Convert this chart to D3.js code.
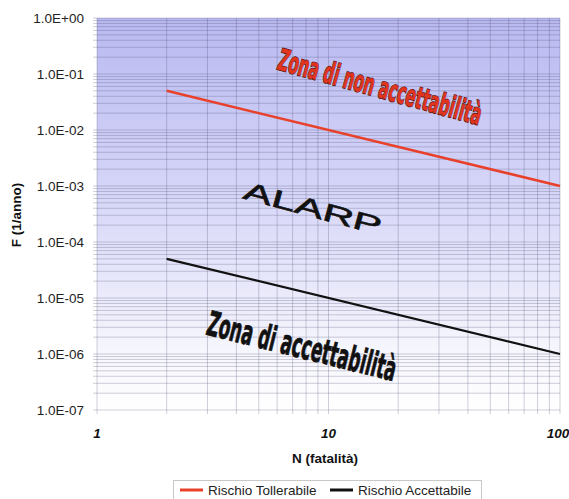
<!DOCTYPE html>
<html>
<head>
<meta charset="utf-8">
<script src="https://cdn.jsdelivr.net/npm/d3@7/dist/d3.min.js"></script>
<style>
  html, body { margin: 0; padding: 0; background: #fff; }
  svg { display: block; }
</style>
</head>
<body>
<svg id="chart" width="569" height="499"></svg>
<script>
// Frequency–fatality (F-N) criteria
const nValues = [2, 100];
const tolerableF = [0.05, 0.001];        // Rischio Tollerabile
const acceptableF = [0.00005, 0.000001]; // Rischio Accettabile
const yTickValues = [1, 1e-1, 1e-2, 1e-3, 1e-4, 1e-5, 1e-6, 1e-7];
const yTickLabels = ["1.0E+00", "1.0E-01", "1.0E-02", "1.0E-03", "1.0E-04", "1.0E-05", "1.0E-06", "1.0E-07"];
const xTickValues = [1, 10, 100];
const xTickLabels = ["1", "10", "100"];
const seriesNames = ["Rischio Tollerabile", "Rischio Accettabile"];
const seriesColors = ["#e8412b", "#111111"];

const svg = d3.select("#chart");
const m = { left: 97, right: 560, top: 18, bottom: 410 };

const x = d3.scaleLog().domain([1, 100]).range([m.left, m.right]);
const y = d3.scaleLog().domain([1e-7, 1]).range([m.bottom, m.top]);

// background gradient
const defs = svg.append("defs");
const grad = defs.append("linearGradient").attr("id", "bg")
  .attr("x1", 0).attr("y1", 0).attr("x2", 0).attr("y2", 1);
grad.append("stop").attr("offset", "0%").attr("stop-color", "#b9b9f1");
grad.append("stop").attr("offset", "45%").attr("stop-color", "#d6d6f8");
grad.append("stop").attr("offset", "85%").attr("stop-color", "#f6f6fd");
grad.append("stop").attr("offset", "100%").attr("stop-color", "#ffffff");

svg.append("rect")
  .attr("x", m.left).attr("y", m.top)
  .attr("width", m.right - m.left).attr("height", m.bottom - m.top)
  .attr("fill", "url(#bg)");

// minor + major grid values
const yGrid = [];
for (let e = -7; e < 0; e++) for (let k = 1; k <= 9; k++) yGrid.push(k * Math.pow(10, e));
yGrid.push(1);
const xGrid = [];
for (let e = 0; e < 2; e++) for (let k = 1; k <= 9; k++) xGrid.push(k * Math.pow(10, e));
xGrid.push(100);

const gridColor = "rgba(70,70,110,0.26)";
svg.append("g").selectAll("line").data(yGrid).join("line")
  .attr("x1", m.left - 4).attr("x2", m.right)
  .attr("y1", d => y(d)).attr("y2", d => y(d))
  .attr("stroke", gridColor).attr("stroke-width", 1);
svg.append("g").selectAll("line").data(xGrid).join("line")
  .attr("y1", m.top).attr("y2", m.bottom + 4)
  .attr("x1", d => x(d)).attr("x2", d => x(d))
  .attr("stroke", gridColor).attr("stroke-width", 1);

// y axis labels
svg.append("g").selectAll("text").data(yTickValues).join("text")
  .attr("x", 84).attr("y", d => y(d)).attr("dy", "0.35em")
  .attr("text-anchor", "end")
  .attr("font-family", "Liberation Sans, Arial, sans-serif")
  .attr("font-size", 13.5).attr("fill", "#222")
  .text((d, i) => yTickLabels[i]);

// x axis labels
svg.append("g").selectAll("text").data(xTickValues).join("text")
  .attr("x", d => x(d) - (d === 100 ? 2 : 0)).attr("y", 438)
  .attr("text-anchor", "middle")
  .attr("font-family", "Liberation Sans, Arial, sans-serif")
  .attr("font-size", 13.5).attr("font-weight", "bold").attr("font-style", "italic")
  .attr("fill", "#111")
  .text((d, i) => xTickLabels[i]);

// axis titles
svg.append("text")
  .attr("transform", "translate(21,215) rotate(-90)")
  .attr("text-anchor", "middle")
  .attr("font-family", "Liberation Sans, Arial, sans-serif")
  .attr("font-size", 13.5).attr("font-weight", "bold").attr("fill", "#111")
  .text("F (1/anno)");
svg.append("text")
  .attr("x", 325).attr("y", 463)
  .attr("text-anchor", "middle")
  .attr("font-family", "Liberation Sans, Arial, sans-serif")
  .attr("font-size", 13.5).attr("font-weight", "bold").attr("fill", "#111")
  .text("N (fatalità)");

// criterion lines
const line = d3.line().x(d => x(d[0])).y(d => y(d[1]));
[tolerableF, acceptableF].forEach((fs, i) => {
  svg.append("path")
    .datum(nValues.map((n, j) => [n, fs[j]]))
    .attr("d", line)
    .attr("fill", "none")
    .attr("stroke", seriesColors[i])
    .attr("stroke-width", i === 0 ? 2.6 : 2.2);
});

// zone labels
function zoneLabel(txt, cx, cy, angle, size, len, fill, stroke, sw, weight, family) {
  const t = svg.append("text")
    .attr("transform", `translate(${cx},${cy}) rotate(${angle})`)
    .attr("text-anchor", "middle")
    .attr("dominant-baseline", "central")
    .attr("font-family", family)
    .attr("font-size", size).attr("font-weight", weight)
    .attr("textLength", len).attr("lengthAdjust", "spacingAndGlyphs")
    .attr("fill", fill)
    .text(txt);
  if (stroke) t.attr("stroke", stroke).attr("stroke-width", sw).attr("paint-order", "stroke");
  return t;
}
const condensed = "DejaVu Sans Condensed, Liberation Sans Narrow, Arial, sans-serif";
zoneLabel("Zona di non accettabilità", 380, 87, 15.5, 30, 210, "#e0341f", "#4a100c", 1.4, "bold", condensed);
zoneLabel("ALARP", 313, 208, 15, 25, 142, "#111", "#111", 0.6, "normal",
  "Liberation Sans, Arial, sans-serif");
zoneLabel("Zona di accettabilità", 302, 346, 14, 34, 194, "#111", "#111", 0.8, "bold", condensed);

// legend
const lg = svg.append("g");
lg.append("rect").attr("x", 173.5).attr("y", 480.5).attr("width", 308).attr("height", 24)
  .attr("fill", "#fff").attr("stroke", "#c8c8c8");
const legendX = [180, 330];
seriesNames.forEach((name, i) => {
  lg.append("line").attr("x1", legendX[i]).attr("x2", legendX[i] + 23)
    .attr("y1", 490).attr("y2", 490)
    .attr("stroke", seriesColors[i]).attr("stroke-width", 3);
  lg.append("text").attr("x", legendX[i] + 28).attr("y", 495)
    .attr("font-family", "Liberation Sans, Arial, sans-serif")
    .attr("font-size", 13.5).attr("fill", "#222")
    .text(name);
});
</script>
</body>
</html>
